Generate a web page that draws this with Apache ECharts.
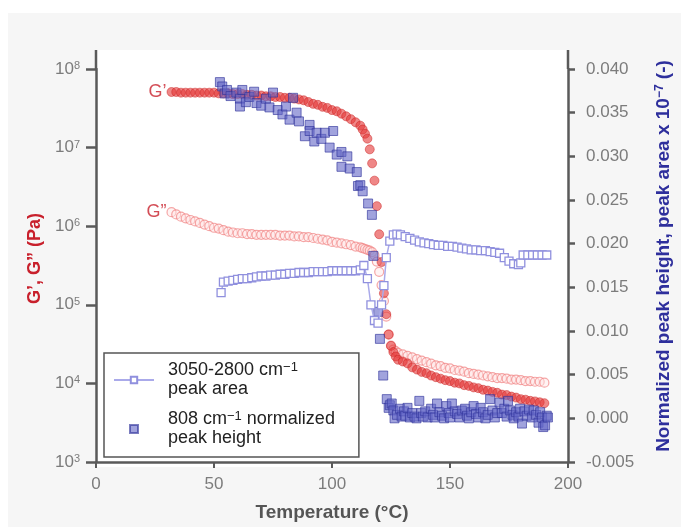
<!DOCTYPE html>
<html>
<head>
<meta charset="utf-8">
<script src="https://cdn.jsdelivr.net/npm/echarts@6.0.0/dist/echarts.min.js"></script>
<style>
html,body{margin:0;padding:0;background:#fff;}
#chart{width:681px;height:527px;}
</style>
</head>
<body>
<div id="chart"></div>
<script>
// rheology: temperature (°C), G' and G'' (Pa)
var rheoTemp = [32,34,36,38,40,42,44,46,48,50,52,54,56,58,60,62,64,66,68,70,72,74,76,78,80,82,84,86,88,90,92,94,96,98,100,102,104,106,108,110,112,
  113,114,115,116,117,118,119,120,121,122,123,124,125,126,127,128,
  130,132,134,136,138,140,142,144,146,148,150,152,154,156,158,160,162,164,166,168,170,172,174,176,178,180,182,184,186,188,190];
var gPrime = [5.1e7,5.1e7,5.0e7,5.0e7,5.0e7,5.0e7,5.0e7,5.0e7,5.0e7,5.0e7,
  4.9e7,4.9e7,4.9e7,4.8e7,4.8e7,4.8e7,4.7e7,4.7e7,4.6e7,4.6e7,
  4.5e7,4.5e7,4.4e7,4.4e7,4.3e7,4.3e7,4.2e7,4.1e7,4.0e7,3.8e7,
  3.6e7,3.5e7,3.3e7,3.2e7,3.0e7,2.9e7,2.7e7,2.5e7,2.3e7,2.1e7,
  1.9e7,
  1.7e7,1.5e7,1.3e7,9.5e6,6.3e6,3.8e6,1.8e6,7.9e5,3.5e5,1.4e5,7.6e4,4.2e4,3.0e4,2.5e4,2.2e4,2.0e4,
  1.9e4,1.8e4,1.6e4,1.5e4,1.4e4,1.35e4,1.26e4,1.2e4,1.15e4,1.1e4,1.07e4,1.02e4,1.0e4,9.5e3,9.3e3,8.9e3,
  8.7e3,8.3e3,8.1e3,7.8e3,7.6e3,7.2e3,7.1e3,6.8e3,6.6e3,6.3e3,6.2e3,6.0e3,5.9e3,5.75e3,5.6e3];
var gDoublePrime = [1.51e6,1.41e6,1.32e6,1.26e6,1.20e6,1.15e6,1.10e6,1.05e6,1.0e6,9.55e5,
  9.33e5,8.91e5,8.51e5,8.32e5,8.13e5,8.13e5,7.94e5,7.94e5,7.76e5,7.76e5,
  7.76e5,7.76e5,7.76e5,7.59e5,7.59e5,7.59e5,7.41e5,7.41e5,7.24e5,7.24e5,
  7.08e5,6.92e5,6.76e5,6.61e5,6.31e5,6.17e5,6.03e5,5.89e5,5.75e5,5.50e5,
  5.37e5,
  5.25e5,5.13e5,5.01e5,4.90e5,4.68e5,4.27e5,3.55e5,2.63e5,1.78e5,1.12e5,7.08e4,4.17e4,3.02e4,2.69e4,2.57e4,2.45e4,
  2.34e4,2.24e4,2.14e4,2.04e4,1.95e4,1.86e4,1.78e4,1.70e4,1.66e4,1.58e4,1.55e4,1.48e4,1.45e4,1.41e4,1.35e4,1.32e4,
  1.29e4,1.26e4,1.23e4,1.20e4,1.17e4,1.17e4,1.15e4,1.12e4,1.12e4,1.10e4,1.07e4,1.07e4,1.05e4,1.05e4,1.02e4];

// 3050-2800 cm-1 peak area
var areaTemp = [53,54,56,58,60,62,64,66,68,70,72,74,76,78,80,82,84,86,88,90,92,94,96,98,100,102,104,106,108,110,112,
  113.5,115,116.5,118,119.5,121,122,123,124.5,126,127.5,
  129,131,133,135,137,139,141,143,145,147,149,151,153,155,157,159,161,163,165,167,169,171,173,175,177,179,180,
  181,183,185,187,189,191];
var areaValue = [0.0144,0.0156,0.0157,0.0158,0.0159,0.0160,0.0160,0.0161,0.0162,0.0163,0.0163,0.0164,0.0164,0.0165,0.0165,
  0.0166,0.0166,0.0167,0.0167,0.0167,0.0168,0.0168,0.0168,0.0168,0.0169,0.0169,0.0169,0.0169,0.0169,0.0169,0.0170,
  0.0175,0.0160,0.0130,0.0112,0.0109,0.0130,0.0152,0.0184,0.0203,0.0210,0.0211,
  0.0210,0.0208,0.0206,0.0204,0.0202,0.0201,0.0200,0.0199,0.0198,0.0198,0.0197,0.0197,0.0196,0.0195,0.0194,0.0193,
  0.0193,0.0192,0.0192,0.0191,0.0190,0.0189,0.0184,0.0180,0.0177,0.0176,0.0178,
  0.0187,0.0187,0.0187,0.0187,0.0187,0.0187];

// 808 cm-1 normalized peak height
var heightTemp = [52.5,53.5,54.5,55.5,57,59.5,61,61,62,63.5,65,67,68,70,72,73.5,75,77,79,80.5,82,83.5,85,86,88.5,90.5,90.5,
  92.5,93.5,95.5,97,99,100.5,102,104,104,106.5,107.5,110.5,111,112,113,115.3,116.9,117.5,119.6,120.3,121.7,123.2,124,
  124.5,125.3,126,126.5,127.5,128.8,129.5,130.5,131,132,133,134,135,135.8,137,137.8,138.5,139.5,140.5,142,142.8,143.5,
  144.5,145.5,146.6,147.5,148.5,149.5,150,150.8,152,153,154,155,156.4,157.2,158,159,160,161,162,163,164,165,166,167,
  168,169,170,171,172,173,174,174.6,175.5,176.5,177,178,179,179.7,180.5,181.5,182.5,183.5,184.7,185.5,186.5,187.5,
  188.2,189,189.5,190.3,191,191.5];
var heightValue = [0.0385,0.0380,0.0372,0.0376,0.0369,0.0373,0.0366,0.0357,0.0376,0.0362,0.0368,0.0374,0.0361,0.0358,0.0366,0.0356,
  0.0373,0.0353,0.0348,0.0357,0.0342,0.0367,0.0350,0.0340,0.0323,0.0336,0.0329,
  0.0317,0.0327,0.0320,0.0327,0.0310,0.0329,0.0302,0.0305,0.0288,0.0300,0.0286,0.0282,0.0266,0.0267,0.0260,0.0246,0.0233,
  0.0186,0.0122,0.0091,0.0049,0.0022,0.0012,
  0.0015,0.0017,0.0009,0.0000,0.0004,0.0011,0.0002,0.0008,0.0003,0.0012,0.0001,0.0006,0.0002,0.0000,0.0020,0.0006,0.0002,
  0.0008,0.0001,0.0011,0.0004,0.0001,0.0017,0.0007,0.0003,0.0000,0.0014,0.0006,0.0001,0.0017,0.0008,0.0005,0.0001,0.0009,
  0.0011,0.0003,0.0000,0.0007,0.0014,0.0005,0.0001,0.0012,0.0007,0.0000,0.0004,0.0022,0.0009,0.0001,0.0006,0.0018,0.0006,
  0.0011,0.0002,0.0020,0.0009,0.0004,0.0000,0.0007,0.0002,0.0011,-0.0006,0.0008,0.0003,0.0010,0.0001,0.0009,0.0004,-0.0005,
  0.0007,0.0001,-0.0010,-0.0008,0.0003,0.0001];

var legendLabels = {
  area: '3050-2800 cm{sup|\u22121}\npeak area',
  height: '808 cm{sup|\u22121} normalized\npeak height'
};

var RED = '#c8202c';
var BLUE = '#2e2f9c';
var GREY = '#7c7c7c';
var AXIS = '#5a5a5a';
var FONT = 'Liberation Sans';

function pairs(xs, ys) {
  var out = [];
  for (var i = 0; i < xs.length; i++) out.push([xs[i], ys[i]]);
  return out;
}

var gpData = pairs(rheoTemp, gPrime);
gpData[0] = {value: gpData[0], label: {show: true, formatter: 'G\u2019', position: 'left', distance: 0, color: RED, fontSize: 18, fontFamily: FONT}};
var gppData = pairs(rheoTemp, gDoublePrime);
gppData[0] = {value: gppData[0], label: {show: true, formatter: 'G\u201d', position: 'left', distance: 0, color: RED, fontSize: 18, fontFamily: FONT}};

var chart = echarts.init(document.getElementById('chart'));

var option = {
  backgroundColor: '#fff',
  animation: false,
  graphic: [
    {type: 'rect', shape: {x: 8, y: 13, width: 673, height: 514}, style: {fill: '#f6f6f6'}, z: -10, silent: true},
    {type: 'rect', shape: {x: 97, y: 50, width: 471, height: 417}, style: {fill: '#fff'}, z: -9, silent: true},
    {type: 'line', shape: {x1: 96, y1: 50, x2: 96, y2: 69}, style: {stroke: AXIS, lineWidth: 2.5}, silent: true},
    {type: 'line', shape: {x1: 568, y1: 50, x2: 568, y2: 69}, style: {stroke: AXIS, lineWidth: 2.5}, silent: true}
  ],
  grid: {left: 96, right: 113, top: 69, bottom: 60, containLabel: false},
  legend: {
    left: 104, top: 353, orient: 'vertical',
    data: [
      {name: 'area'},
      {name: 'height', icon: 'path://M0,0L10,0L10,10L0,10Z'}
    ],
    selectedMode: false,
    backgroundColor: '#fff', borderColor: '#555', borderWidth: 1.5, borderRadius: 0,
    padding: [8, 24, 9, 9], itemGap: 11, itemWidth: 40, itemHeight: 8,
    formatter: function (n) { return legendLabels[n]; },
    textStyle: {
      fontFamily: FONT, fontSize: 18, color: '#222', lineHeight: 19, padding: [0, 0, 0, 9],
      rich: {sup: {fontFamily: FONT, fontSize: 13, lineHeight: 12, verticalAlign: 'top', color: '#222'}}
    }
  },
  xAxis: {
    type: 'value', min: 0, max: 200, interval: 50,
    name: 'Temperature (\u00b0C)', nameLocation: 'middle', nameGap: 41,
    nameTextStyle: {fontFamily: FONT, fontWeight: 'bold', fontSize: 19, color: '#555'},
    axisLine: {show: true, onZero: false, lineStyle: {color: AXIS, width: 2.5}},
    axisTick: {show: true, length: 6, lineStyle: {color: AXIS, width: 2}},
    axisLabel: {margin: 14, fontFamily: FONT, fontSize: 17, color: GREY},
    splitLine: {show: false}
  },
  yAxis: [
    {
      type: 'log', logBase: 10, min: 1e3, max: 1e8, position: 'left',
      name: 'G\u2019, G\u201d (Pa)', nameLocation: 'middle', nameGap: 50, nameRotate: 90,
      nameTextStyle: {fontFamily: FONT, fontWeight: 'bold', fontSize: 18, color: RED, padding: [0, 0, 0, 14]},
      axisLine: {show: true, lineStyle: {color: AXIS, width: 2.5}},
      axisTick: {show: true, length: 10, lineStyle: {color: AXIS, width: 2.5}},
      axisLabel: {
        margin: 16, fontFamily: FONT, fontSize: 17, color: GREY,
        formatter: function (v) { return '10{sup|' + Math.round(Math.log(v) / Math.LN10) + '}'; },
        rich: {sup: {fontFamily: FONT, fontSize: 11, lineHeight: 11, verticalAlign: 'top', color: GREY}}
      },
      splitLine: {show: false},
      minorTick: {show: false}
    },
    {
      type: 'value', min: -0.005, max: 0.04, interval: 0.005, position: 'right',
      name: 'Normalized peak height, peak area x 10{sup|\u22127} (-)', nameLocation: 'middle', nameGap: 86, nameRotate: 90,
      nameTextStyle: {
        fontFamily: FONT, fontWeight: 'bold', fontSize: 19, color: BLUE, padding: [0, 0, 0, 19],
        rich: {sup: {fontFamily: FONT, fontWeight: 'bold', fontSize: 12, lineHeight: 11, verticalAlign: 'top', color: BLUE}}
      },
      axisLine: {show: true, lineStyle: {color: AXIS, width: 2.5}},
      axisTick: {show: true, length: 7, lineStyle: {color: AXIS, width: 2.5}},
      axisLabel: {
        margin: 18, fontFamily: FONT, fontSize: 17, color: GREY,
        formatter: function (v) { return Math.abs(v) < 1e-9 ? '0.000' : v.toFixed(3); }
      },
      splitLine: {show: false}
    }
  ],
  series: [
    {
      name: 'G\u201d', type: 'scatter', yAxisIndex: 0, data: gppData,
      symbol: 'circle', symbolSize: 9,
      itemStyle: {color: 'rgba(255,228,228,0.55)', borderColor: 'rgba(240,128,128,0.85)', borderWidth: 1.2}
    },
    {
      name: 'area', type: 'line', yAxisIndex: 1, data: pairs(areaTemp, areaValue),
      symbol: 'rect', symbolSize: 8, showAllSymbol: true,
      lineStyle: {color: '#aaaaea', width: 1.5},
      itemStyle: {color: '#ffffff', borderColor: '#9090de', borderWidth: 1.3}
    },
    {
      name: 'G\u2019', type: 'scatter', yAxisIndex: 0, data: gpData,
      symbol: 'circle', symbolSize: 9,
      itemStyle: {color: 'rgba(228,55,55,0.75)', borderColor: 'rgba(200,30,30,0.6)', borderWidth: 1}
    },
    {
      name: 'height', type: 'scatter', yAxisIndex: 1, data: pairs(heightTemp, heightValue),
      symbol: 'rect', symbolSize: 9,
      itemStyle: {color: 'rgba(98,102,198,0.75)', borderColor: 'rgba(48,52,155,0.8)', borderWidth: 1}
    }
  ]
};

chart.setOption(option);
</script>
</body>
</html>
